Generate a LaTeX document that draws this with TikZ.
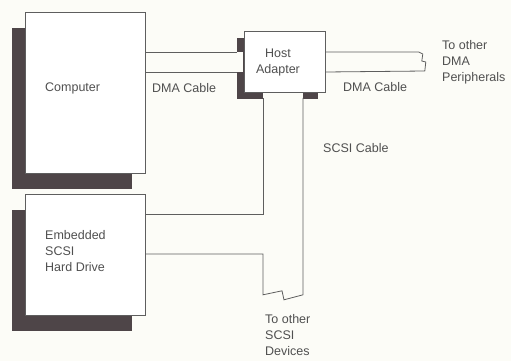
\documentclass[tikz,border=0pt]{standalone}
\usepackage{fontspec}
\setmainfont{Liberation Sans}
\usepackage{xcolor}
\usepackage{tikz}
\usetikzlibrary{calc,positioning,shadows}
\definecolor{inkgray}{HTML}{505050}
\definecolor{linegray}{HTML}{5E5E5E}
\definecolor{shadowgray}{HTML}{4E4548}
\definecolor{paper}{HTML}{FCFCF7}
\tikzset{
  unitbox/.style={draw=linegray,fill=white,line width=0.8pt,inner sep=0pt,anchor=north west},
  bigshadow/.style={drop shadow={shadow xshift=-13pt,shadow yshift=-16pt,opacity=1,fill=shadowgray}},
  smallshadow/.style={drop shadow={shadow xshift=-7pt,shadow yshift=-7pt,opacity=1,fill=shadowgray}},
  cable/.style={draw=linegray,line width=0.8pt},
  cablefill/.style={fill=paper},
  tag/.style={text=inkgray,inner sep=0pt,font=\fontsize{12.5}{16}\selectfont}
}

\begin{document}
\begin{tikzpicture}[x=1pt,y=-1pt]
\useasboundingbox[fill=paper] (0,0) rectangle (511,361);
% units
\node[unitbox,bigshadow,minimum width=120pt,minimum height=161pt] (computer) at (25,12) {};
\node[unitbox,smallshadow,minimum width=81pt,minimum height=61pt] (host) at (244,31) {};
\node[unitbox,bigshadow,minimum width=120pt,minimum height=121pt] (drive) at (25,194) {};
% DMA cables
\fill[cablefill] ($(computer.north east)+(0.6,40)$) rectangle ($(host.north west)+(-0.6,41)$);
\draw[cable] ($(computer.north east)+(0,40)$) -- ($(host.north west)+(-7,21)$);
\draw[cable] ($(computer.north east)+(0,60)$) -- ($(host.north west)+(-7,41)$);
\draw[cable] ($(host.north east)+(0,21)$) -- ++(93,0) -- ++(4,2) -- ++(-1,7) -- ++(4,1) -- ++(-1,9) -- ($(host.north east)+(0,41)$);
% SCSI cable
\fill[cablefill] ($(host.south west)+(19,0.6)$) rectangle ($(host.south west)+(59,8)$);
\draw[cable] ($(host.south west)+(19,5)$) |- ($(drive.north east)+(0,20)$);
\draw[cable] ($(drive.north east)+(0,60)$) -| ($(host.south west)+(19,202)$) -- ++(19,-4) -- ++(2,9) -- ++(19,-5) -- ($(host.south west)+(59,5)$);
% labels
\node[tag,anchor=west] (computerlabel) at (45,88) {Computer};
\node[tag,anchor=west] (dmalabelA) at (152,88) {DMA Cable};
\node[tag,align=center] (hostlabel) at (278,62) {Host\\Adapter};
\node[tag,anchor=west] (dmalabelB) at (343,87) {DMA Cable};
\node[tag,anchor=north west,align=left] (dmaends) at (442,40) {To other\\DMA\\Peripherals};
\node[tag,anchor=west] (scsilabel) at (323,148) {SCSI Cable};
\node[tag,anchor=north west,align=left] (drivelabel) at (45,230) {Embedded\\SCSI\\Hard Drive};
\node[tag,anchor=north west,align=left] (scsiends) at (265,314) {To other\\SCSI\\Devices};
\end{tikzpicture}
\end{document}
